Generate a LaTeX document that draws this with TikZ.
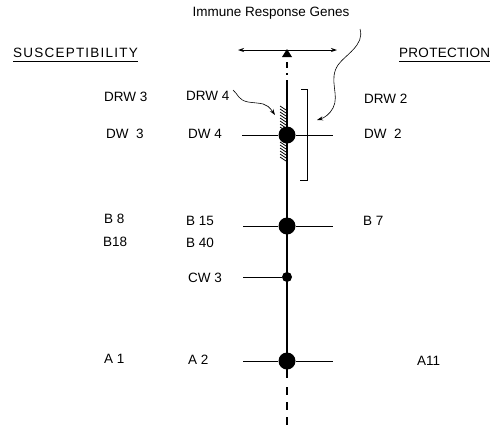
\documentclass[tikz,border=0pt]{standalone}
\usepackage{fontspec}
\setmainfont{Liberation Sans}
\usetikzlibrary{arrows.meta}
\begin{document}
\begin{tikzpicture}[x=1pt,y=-1pt,
  lbl/.style={font=\fontsize{13.5}{15}\selectfont, inner sep=0pt, anchor=west},
  bigdot/.style={circle, fill=black, minimum size=17pt, inner sep=0pt},
  smalldot/.style={circle, fill=black, minimum size=10pt, inner sep=0pt},
  chrom/.style={line width=1.3pt},
  arm/.style={line width=0.7pt},
  uline/.style={line width=0.5pt},
  curvy/.style={line width=0.6pt, -{Stealth[length=6pt,width=4pt]}}]
\useasboundingbox (0,0) rectangle (493,429);
% titles
\node[lbl, anchor=center] (irg) at (271,13) {Immune Response Genes};
\node[lbl] (sus) at (13,53) {\addfontfeatures{LetterSpace=9}SUSCEPTIBILITY};
\node[lbl] (pro) at (399,53) {\addfontfeatures{LetterSpace=2}PROTECTION};
\draw[uline] ([yshift=-3pt]sus.south west) -- ([yshift=-3pt]sus.south east);
\draw[uline] ([yshift=-3pt]pro.south west) -- ([yshift=-3pt]pro.south east);
% top arrow and triangle
\coordinate (al) at (238,50);
\coordinate (ar) at (337,50);
\draw[line width=0.8pt, {Stealth[length=6pt,width=4pt]}-{Stealth[length=6pt,width=4pt]}] (al) -- (ar);
\fill (282,57) -- (292,57) -- (287,49) -- cycle;
% chromosome
\coordinate (ctop) at (287,62);
\coordinate (cs) at (287,80);
\coordinate (ce) at (287,378);
\coordinate (cb1) at (287,387);
\coordinate (cbot) at (287,426);
\draw[chrom, dash pattern=on 6pt off 5pt] (ctop) -- (287,75);
\draw[chrom] (cs) -- (ce);
\draw[chrom, dash pattern=on 8pt off 7pt] (cb1) -- (cbot);
% hatching
\foreach \y in {106,109,...,158} {\draw[line width=0.7pt] (280,\y) -- (286,\y+4);}
% bracket
\draw[line width=0.6pt] (301,89) -- (307,89) -- (307,180) -- (300,180);
% loci
\node[bigdot] (dw) at (287,135) {};
\node[bigdot] (bb) at (287,226) {};
\node[smalldot] (cw) at (287,277) {};
\node[bigdot] (aa) at (287,361) {};
\coordinate (dwl) at (242,135); \coordinate (dwr) at (333,135);
\coordinate (bl) at (243,226); \coordinate (br) at (333,226);
\coordinate (cwl) at (243,277);
\coordinate (al2) at (243,361); \coordinate (ar2) at (333,361);
\draw[arm] (dwl) -- (dw); \draw[arm] (dw) -- (dwr);
\draw[arm] (bl) -- (bb); \draw[arm] (bb) -- (br);
\draw[arm] (cwl) -- (cw);
\draw[arm] (al2) -- (aa); \draw[arm] (aa) -- (ar2);
% labels
\node[lbl] (drw3) at (104,97) {DRW 3};
\node[lbl] (drw4) at (186,96) {DRW 4};
\node[lbl] (drw2) at (364,99) {DRW 2};
\node[lbl] (dw3) at (106,134) {DW\ \ 3};
\node[lbl] (dw4) at (188,134) {DW 4};
\node[lbl] (dw2) at (364,134) {DW\ \ 2};
\node[lbl] (b8) at (104,219) {B 8};
\node[lbl] (b18) at (103,242) {B18};
\node[lbl] (b15) at (186,221) {B 15};
\node[lbl] (b40) at (186,243) {B 40};
\node[lbl] (b7) at (363,221) {B 7};
\node[lbl] (cw3) at (188,278) {CW 3};
\node[lbl] (a1) at (104,359) {A 1};
\node[lbl] (a2) at (188,360) {A 2};
\node[lbl] (a11) at (417,361) {A11};
% curvy arrows
\coordinate (hatchtip) at (275,115);
\draw[curvy] (233,90) .. controls (238,94) and (238,100) .. (248,102) .. controls (262,104) and (266,102) .. (hatchtip);
\coordinate (brtip) at (317,120);
\draw[curvy] (360,29) .. controls (365,45) and (345,55) .. (338,65) .. controls (328,80) and (340,95) .. (333,108) .. controls (330,114) and (324,118) .. (brtip);
\end{tikzpicture}
\end{document}
